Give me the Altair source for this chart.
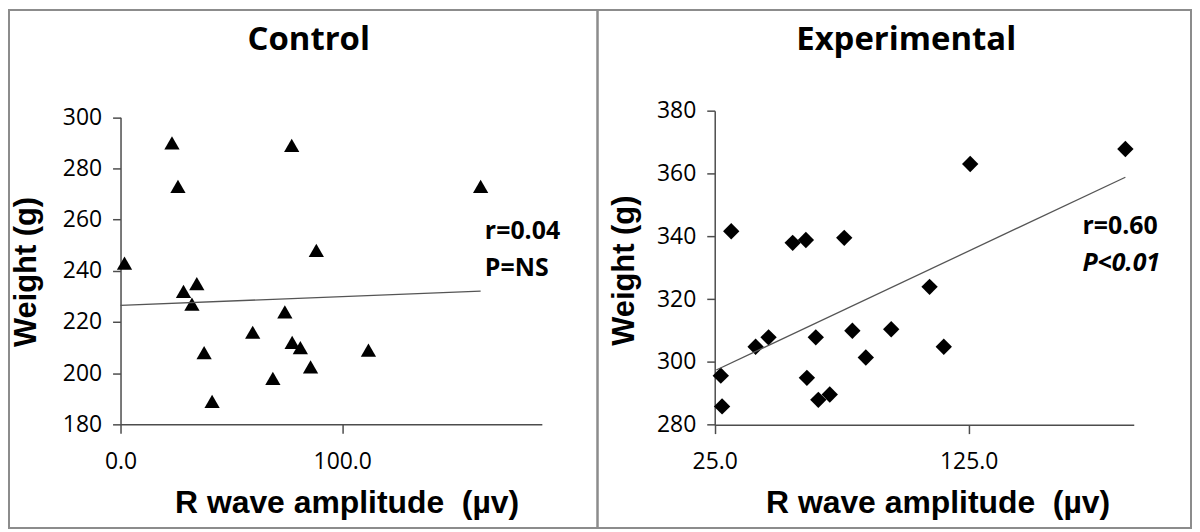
import altair as alt
import pandas as pd

# ---------------- data ----------------
ctrl_x = [1.8, 23.2, 25.9, 28.4, 34.4, 32.2, 37.7, 41.3, 59.6, 68.7, 77.2, 74.1, 77.4, 81.1, 88.3, 85.7, 111.8, 162.4]
ctrl_y = [243, 290, 273, 232, 235, 227, 208, 189, 216, 198, 289, 224, 212, 210, 248, 202.5, 209, 273]
ctrl_fit_x = [0, 162.4]
ctrl_fit_y = [226.5, 232.1]
ctrl_note_x = 164.3
ctrl_r_y = 252.4
ctrl_p_y = 238.0
ctrl_r_text = "r=0.04"
ctrl_p_text = "P=NS"

exp_x = [31.5, 27.4, 27.9, 41.1, 46.2, 55.7, 60.9, 61.3, 64.8, 65.8, 70.3, 76.0, 79.2, 84.5, 94.5, 109.6, 115.2, 125.6, 186.7]
exp_y = [341.6, 295.6, 285.8, 304.8, 307.8, 337.9, 338.8, 294.9, 307.8, 287.9, 289.6, 339.5, 309.9, 301.4, 310.4, 323.9, 304.8, 363, 367.8]
exp_fit_x = [25.6, 186.7]
exp_fit_y = [297.4, 358.8]
exp_note_x = 169.8
exp_r_y = 340.8
exp_p_y = 328.9
exp_r_text = "r=0.60"
exp_p_text = "P<0.01"

ctrl_x_ticks = [0, 100]
ctrl_y_ticks = [180, 200, 220, 240, 260, 280, 300]
exp_x_ticks = [25, 125]
exp_y_ticks = [280, 300, 320, 340, 360, 380]

titles = ["Control", "Experimental"]
x_title = "R wave amplitude\u00a0 (µv)"
y_title = "Weight (g)"

# ---------------- styling ----------------
PANEL_H = 520
AXIS_COLOR = "#4d4d4d"
FRAME = "#8c8c8c"
TICK_FONT = "Open Sans"
TITLE_FONT = "Liberation Sans"


def panel(xs, ys, fit_x, fit_y, note_x, r_y, p_y, r_text, p_text, p_italic,
          title, shape, size, x_domain, x_range, x_ticks, y_domain, y_range,
          y_ticks, width, x_title_x, y_title_x, y_title_y, title_x):
    x_axis = alt.Axis(
        values=x_ticks, format=".1f", offset=-(PANEL_H - y_range[0]),
        tickSize=9, labelPadding=17, labelFont=TICK_FONT, labelFontSize=23,
        labelColor="black", domainColor=AXIS_COLOR, tickColor=AXIS_COLOR,
        domainWidth=1.5, tickWidth=1.5, grid=False, labelFlush=False,
        labelOverlap=False, title=x_title, titleFont=TITLE_FONT,
        titleFontSize=32, titleFontWeight="bold", titleColor="black",
        titleX=x_title_x, titleY=PANEL_H - 15 - y_range[0],
        titleBaseline="alphabetic", titleAlign="center")
    y_axis = alt.Axis(
        values=y_ticks, offset=-x_range[0], tickSize=8, labelPadding=11,
        labelFont=TICK_FONT, labelFontSize=23, labelColor="black",
        domainColor=AXIS_COLOR, tickColor=AXIS_COLOR, domainWidth=1.5,
        tickWidth=1.5, grid=False, labelFlush=False, labelOverlap=False,
        title=y_title, titleFont=TITLE_FONT, titleFontSize=31,
        titleFontWeight="bold", titleColor="black", titleAngle=270,
        titleX=y_title_x, titleY=y_title_y, titleBaseline="alphabetic",
        titleAlign="center")
    xs_ = alt.Scale(domain=x_domain, range=x_range, nice=False, zero=False)
    ys_ = alt.Scale(domain=y_domain, range=y_range, nice=False, zero=False)

    pts = alt.Chart(pd.DataFrame({"x": xs, "y": ys})).mark_point(
        shape=shape, filled=True, size=size, color="black", opacity=1
    ).encode(x=alt.X("x:Q", scale=xs_, axis=x_axis),
             y=alt.Y("y:Q", scale=ys_, axis=y_axis))

    fit = alt.Chart(pd.DataFrame({"x": fit_x, "y": fit_y})).mark_line(
        color="#555555", strokeWidth=1.3
    ).encode(x=alt.X("x:Q", scale=xs_, axis=x_axis),
             y=alt.Y("y:Q", scale=ys_, axis=y_axis))

    r_note = alt.Chart(pd.DataFrame({"x": [note_x], "y": [r_y], "t": [r_text]})).mark_text(
        font=TICK_FONT, fontSize=25, fontWeight="bold", align="left",
        baseline="alphabetic", color="black"
    ).encode(x=alt.X("x:Q", scale=xs_, axis=x_axis),
             y=alt.Y("y:Q", scale=ys_, axis=y_axis), text="t:N")

    p_kw = dict(font=TICK_FONT, fontSize=25, fontWeight="bold", align="left",
                baseline="alphabetic", color="black")
    if p_italic:
        p_kw["fontStyle"] = "italic"
    p_note = alt.Chart(pd.DataFrame({"x": [note_x], "y": [p_y], "t": [p_text]})).mark_text(
        **p_kw
    ).encode(x=alt.X("x:Q", scale=xs_, axis=x_axis),
             y=alt.Y("y:Q", scale=ys_, axis=y_axis), text="t:N")

    head = alt.Chart(pd.DataFrame({"t": [title]})).mark_text(
        font=TICK_FONT, fontSize=33, fontWeight="bold", align="center",
        baseline="alphabetic", color="black"
    ).encode(x=alt.value(title_x), y=alt.value(40), text="t:N")

    return alt.layer(pts, fit, r_note, p_note, head).properties(
        width=width, height=PANEL_H)


left = panel(ctrl_x, ctrl_y, ctrl_fit_x, ctrl_fit_y, ctrl_note_x, ctrl_r_y,
             ctrl_p_y, ctrl_r_text, ctrl_p_text, False, titles[0],
             "triangle-up", 235, [0, 190], [112, 535.1], ctrl_x_ticks,
             [180, 300], [416, 107.7], ctrl_y_ticks, 591,
             339, -85, 262.5, 301)

right = panel(exp_x, exp_y, exp_fit_x, exp_fit_y, exp_note_x, exp_r_y,
              exp_p_y, exp_r_text, exp_p_text, True, titles[1],
              "diamond", 270, [25, 190], [117.7, 538.5], exp_x_ticks,
              [280, 380], [416.3, 101], exp_y_ticks, 596,
              341.5, -81.7, 261.2, 310)

chart = alt.hconcat(left, right, spacing=0, bounds="flush").properties(
    padding={"left": 0, "top": 0, "right": 0, "bottom": 0},
    background="white"
).configure_view(stroke=FRAME, strokeWidth=2)

chart.save("out.html", embed_options={"renderer": "svg", "actions": False})
